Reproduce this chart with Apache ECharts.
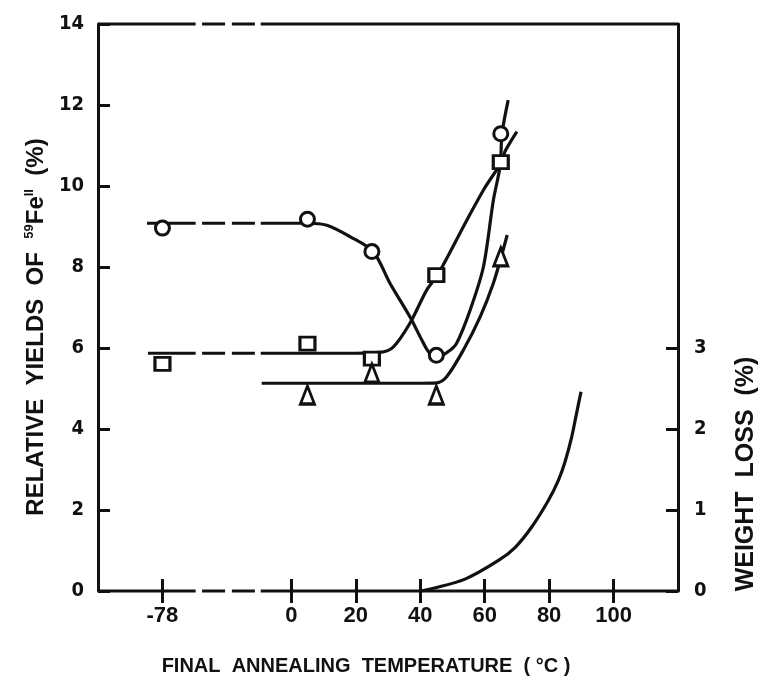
<!DOCTYPE html>
<html>
<head>
<meta charset="utf-8">
<script src="https://cdn.jsdelivr.net/npm/echarts@6/dist/echarts.min.js"></script>
<style>
  html, body { margin: 0; padding: 0; background: #fff; }
  #chart { width: 766px; height: 678px; }
</style>
</head>
<body>
<div id="chart"></div>
<script>
// measured points: temperature (°C) and yield (%)
var temps = [-78, 5, 25, 45, 65];
var circleVals = [8.96, 9.18, 8.38, 5.82, 11.29];
var squareVals = [5.61, 6.11, 5.74, 7.80, 10.59];
var triangleVals = [null, 4.84, 5.38, 4.84, 8.25];

// fitted curves [temperature, yield]
var circleCurve = [[-44.8, 9.08], [5, 9.08], [11, 9.03], [18.2, 8.75], [25.4, 8.38], [30.6, 7.6],
    [36.8, 6.77], [41, 6.12], [43, 5.87], [45.7, 5.8], [48.5, 5.9], [51.3, 6.12], [55.5, 6.94],
    [59.6, 8.0], [62.7, 9.65], [64.8, 10.5], [65.4, 11.3], [67.3, 12.12]];
var squareCurve = [[-44.5, 5.87], [20, 5.87], [27.5, 5.89], [31.7, 6.03], [36.8, 6.61], [42, 7.43],
    [45.6, 7.83], [54.5, 9.16], [60, 9.95], [65.3, 10.6], [66.3, 10.85], [70, 11.34]];
var triangleCurve = [[-9.2, 5.13], [40, 5.13], [45.1, 5.14], [48.2, 5.29], [53.4, 5.95],
    [58.6, 6.77], [62.7, 7.6], [65.3, 8.3], [67, 8.79]];
// weight loss (%) on the right axis
var weightLossCurve = [[40.2, 0], [43.8, 0.03], [54.1, 0.15], [64.4, 0.38], [69.5, 0.54],
    [74.6, 0.79], [79.8, 1.12], [82.9, 1.37], [84.9, 1.59], [87, 1.9], [88.5, 2.19], [89.9, 2.46]];

var xTicks = [-78, 0, 20, 40, 60, 80, 100];
var rightTicks = [0, 1, 2, 3];

// the temperature axis is broken between -78 and 0
var POS_M78 = -40;
var BREAK_A = -29.7, DASH_A = -27.7, DASH_B = -11.3, BREAK_B = -9.5;

function pos(t) { return t === -78 ? POS_M78 : t; }

var INK = '#111';
var NARROW = "'Liberation Sans Narrow', 'DejaVu Sans Condensed', sans-serif";
var WIDE = "'Liberation Sans', Arial, sans-serif";

var series = [];

function addLine(pts, dashed, yIdx) {
    series.push({
        type: 'line', data: pts, yAxisIndex: yIdx || 0,
        showSymbol: false, silent: true, clip: false,
        smooth: pts.length > 2 ? 0.3 : false,
        lineStyle: { color: INK, width: 3.2, type: dashed ? [23, 6.8] : 'solid', cap: 'butt', opacity: 1 },
        z: 2
    });
}

// horizontal line that runs through the axis break
function addBroken(curve) {
    var y0 = curve[0][1];
    if (curve[0][0] < BREAK_A) {
        addLine([[curve[0][0], y0], [BREAK_A, y0]], false);
        addLine([[DASH_A, y0], [DASH_B, y0]], true);
        var rest = [[BREAK_B, y0]];
        curve.forEach(function (p) { if (p[0] > BREAK_B) rest.push(p); });
        addLine(rest, false);
    } else {
        addLine(curve, false);
    }
}

// frame top and bottom with the break
[0, 14].forEach(function (y) {
    addLine([[-60, y], [BREAK_A, y]], false);
    addLine([[DASH_A, y], [DASH_B, y]], true);
    addLine([[BREAK_B, y], [120, y]], false);
});

addBroken(circleCurve);
addBroken(squareCurve);
addBroken(triangleCurve);
addLine(weightLossCurve, false, 1);

function markers(vals, symbol, size) {
    var d = [];
    temps.forEach(function (t, i) { if (vals[i] != null) d.push([pos(t), vals[i]]); });
    series.push({
        type: 'scatter', data: d, symbol: symbol, symbolSize: size, silent: true,
        itemStyle: { color: '#fff', borderColor: INK, borderWidth: 3, opacity: 1 }, z: 5
    });
}
markers(circleVals, 'circle', 14);
markers(squareVals, 'rect', [15, 13]);
markers(triangleVals, 'triangle', [14, 18]);

var chart = echarts.init(document.getElementById('chart'), null, { renderer: 'canvas' });
chart.setOption({
    animation: false,
    backgroundColor: '#fff',
    grid: { left: 98, right: 88, top: 24, bottom: 87 },
    xAxis: [{
        type: 'value', min: -60, max: 120, position: 'bottom',
        axisLine: { show: false }, splitLine: { show: false },
        axisTick: { inside: true, length: 12, customValues: xTicks.map(pos), lineStyle: { color: INK, width: 3 } },
        axisLabel: {
            customValues: xTicks.map(pos), margin: 14, color: INK,
            fontFamily: WIDE, fontWeight: 'bold', fontSize: 22,
            formatter: function (v) { return v === POS_M78 ? '-78' : String(v); }
        }
    }, {
        type: 'value', min: -60, max: 120, position: 'top',
        axisLine: { show: false }, splitLine: { show: false },
        axisTick: { inside: true, length: 12, customValues: xTicks.map(pos), lineStyle: { color: INK, width: 3 } },
        axisLabel: { show: false }
    }],
    yAxis: [{
        type: 'value', min: 0, max: 14, interval: 2, position: 'left',
        axisLine: { show: true, onZero: false, lineStyle: { color: INK, width: 3 } },
        axisTick: { show: true, inside: true, length: 12, lineStyle: { color: INK, width: 3 } },
        splitLine: { show: false },
        axisLabel: { margin: 14, color: INK, fontFamily: NARROW, fontWeight: 'bold', fontSize: 20 }
    }, {
        type: 'value', min: 0, max: 7, position: 'right',
        axisLine: { show: true, onZero: false, lineStyle: { color: INK, width: 3 } },
        axisTick: { show: true, inside: true, length: 12, customValues: rightTicks, lineStyle: { color: INK, width: 3 } },
        splitLine: { show: false },
        axisLabel: { customValues: rightTicks, margin: 16, color: INK, fontFamily: NARROW, fontWeight: 'bold', fontSize: 20 }
    }],
    graphic: [{
        type: 'text', x: 36, y: 327, rotation: Math.PI / 2,
        style: {
            text: 'RELATIVE  YIELDS  OF  {sup|59}Fe{sup|II}  (%)',
            fill: INK, font: 'bold 24px ' + WIDE, align: 'center', verticalAlign: 'middle',
            rich: {
                sup: { fontSize: 13, fontWeight: 'bold', fontFamily: WIDE, verticalAlign: 'top', fill: INK, lineHeight: 26 }
            }
        }
    }, {
        type: 'text', x: 746, y: 474, rotation: Math.PI / 2,
        style: { text: 'WEIGHT  LOSS  (%)', fill: INK, font: 'bold 25px ' + WIDE, align: 'center', verticalAlign: 'middle' }
    }, {
        type: 'text', x: 366, y: 666,
        style: { text: 'FINAL  ANNEALING  TEMPERATURE  ( °C )', fill: INK, font: 'bold 20px ' + WIDE, align: 'center', verticalAlign: 'middle' }
    }],
    series: series
});
</script>
</body>
</html>
